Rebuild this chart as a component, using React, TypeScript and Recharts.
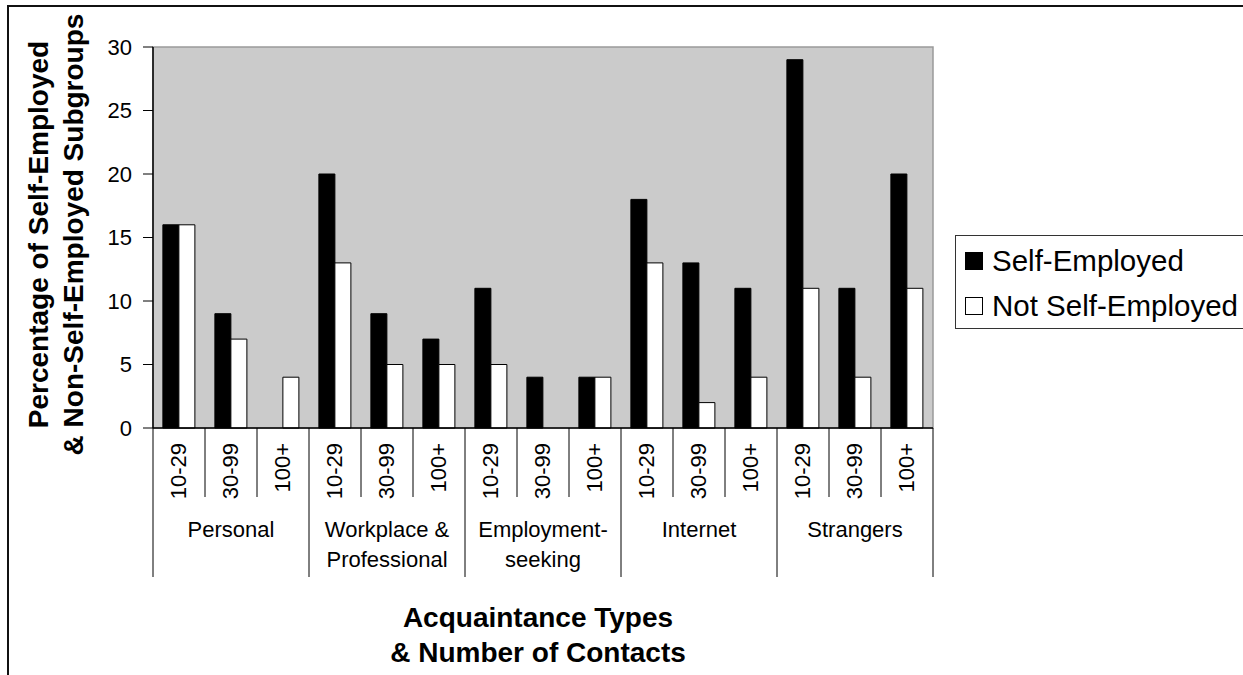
import { BarChart, Bar, XAxis, YAxis, Legend, ReferenceArea } from 'recharts';

const FONT = '"Liberation Sans", Arial, sans-serif';

// acquaintance types (multi-line where the label wraps)
const groupLabels = [
  ['Personal'],
  ['Workplace &', 'Professional'],
  ['Employment-', 'seeking'],
  ['Internet'],
  ['Strangers'],
];

// number-of-contacts bands inside each type
const bands = ['10-29', '30-99', '100+'];

// percentages, in order type by type, band by band
const selfEmployed = [16, 9, 0, 20, 9, 7, 11, 4, 4, 18, 13, 11, 29, 11, 20];
const notSelfEmployed = [16, 7, 4, 13, 5, 5, 5, 0, 4, 13, 2, 4, 11, 4, 11];

const yTicks = [0, 5, 10, 15, 20, 25, 30];

const seriesOrder = ['selfEmployed', 'notSelfEmployed'];

const rows = groupLabels.flatMap((g, gi) =>
  bands.map((b, bi) => {
    const i = gi * bands.length + bi;
    return {
      id: `${g.join(' ')} ${b}`,
      group: gi,
      band: b,
      selfEmployed: selfEmployed[i],
      notSelfEmployed: notSelfEmployed[i],
    };
  })
);

const BAND_LINE = 69;
const GROUP_LINE = 149;

function CategoryTick(props: any) {
  const { x, y, payload } = props;
  const i: number = payload?.index ?? props.index ?? 0;
  const half: number = payload?.offset ?? 26;
  const row = rows[i];
  const left = x - half;
  const right = x + half;
  const groupEnd = (i + 1) % bands.length === 0;
  const middle = i % bands.length === 1;
  const tx = x + 7;
  const ty = y + 15;
  return (
    <g>
      {i === 0 && <line x1={left} x2={left} y1={y} y2={y + GROUP_LINE} stroke="#000" />}
      <line x1={right} x2={right} y1={y} y2={y + (groupEnd ? GROUP_LINE : BAND_LINE)} stroke="#000" />
      <text
        x={tx}
        y={ty}
        transform={`rotate(-90 ${tx} ${ty})`}
        textAnchor="end"
        fontSize={22}
        fontFamily={FONT}
        fill="#000"
      >
        {row.band}
      </text>
      {middle &&
        groupLabels[row.group].map((line, li) => (
          <text
            key={li}
            x={x}
            y={y + 109 + li * 30}
            textAnchor="middle"
            fontSize={22}
            fontFamily={FONT}
            fill="#000"
          >
            {line}
          </text>
        ))}
    </g>
  );
}

function ValueTick(props: any) {
  const { x, y, payload } = props;
  return (
    <text x={x - 5} y={y} dy="0.35em" textAnchor="end" fontSize={22} fontFamily={FONT} fill="#000">
      {payload.value}
    </text>
  );
}

function XTitle(props: any) {
  const { x, width, y } = props.viewBox;
  const cx = x + width / 2 - 5;
  return (
    <g>
      <text x={cx} y={y + 199} textAnchor="middle" fontSize={28} fontWeight="bold" fontFamily={FONT} fill="#000">
        Acquaintance Types
      </text>
      <text x={cx} y={y + 234} textAnchor="middle" fontSize={28} fontWeight="bold" fontFamily={FONT} fill="#000">
        & Number of Contacts
      </text>
    </g>
  );
}

function YTitle(props: any) {
  const { y, height } = props.viewBox;
  const cy = y + height / 2 - 3;
  const lines = ['Percentage of Self-Employed', '& Non-Self-Employed Subgroups'];
  return (
    <g>
      {lines.map((t, i) => {
        const bx = 48 + i * 35;
        return (
          <text
            key={i}
            x={bx}
            y={cy}
            transform={`rotate(-90 ${bx} ${cy})`}
            textAnchor="middle"
            fontSize={28}
            fontWeight="bold"
            fontFamily={FONT}
            fill="#000"
          >
            {t}
          </text>
        );
      })}
    </g>
  );
}

function LegendBox(props: any) {
  const items = [...(props.payload || [])].sort(
    (a: any, b: any) => seriesOrder.indexOf(a.dataKey) - seriesOrder.indexOf(b.dataKey)
  );
  return (
    <div
      style={{
        border: '1px solid #333',
        background: '#fff',
        padding: '2px 40px 0 9px',
        fontFamily: FONT,
        fontSize: 29.5,
        color: '#000',
        whiteSpace: 'nowrap',
      }}
    >
      {items.map((entry: any) => (
        <div key={entry.value} style={{ height: 45, lineHeight: '45px', display: 'flex', alignItems: 'center' }}>
          <span
            style={{
              display: 'inline-block',
              width: 18,
              height: 18,
              background: entry.dataKey === 'selfEmployed' ? '#000' : '#fff',
              border: '1px solid #000',
              boxSizing: 'border-box',
              marginRight: 9,
            }}
          />
          <span>{entry.value}</span>
        </div>
      ))}
    </div>
  );
}

export default function App() {
  return (
    <div style={{ position: 'absolute', left: 0, top: 0, width: 1243, height: 675, overflow: 'hidden', background: '#fff' }}>
      <div
        style={{
          position: 'absolute',
          left: 7,
          top: 5,
          width: 1300,
          height: 800,
          border: '2px solid #111',
        }}
      />
      <div style={{ position: 'absolute', left: 0, top: 0 }}>
        <BarChart
          width={1243}
          height={675}
          data={rows}
          margin={{ top: 47, right: 310, bottom: 0, left: 0 }}
          barCategoryGap="19%"
          barGap={0}
        >
          <ReferenceArea
            x1={rows[0].id}
            x2={rows[rows.length - 1].id}
            y1={0}
            y2={30}
            fill="#CBCBCB"
            fillOpacity={1}
            stroke="#9a9a9a"
            strokeWidth={1.5}
          />
          <Bar dataKey="selfEmployed" name="Self-Employed" fill="#000" stroke="#000" isAnimationActive={false} />
          <Bar dataKey="notSelfEmployed" name="Not Self-Employed" fill="#fff" stroke="#000" isAnimationActive={false} />
          <XAxis
            dataKey="id"
            height={247}
            interval={0}
            tickLine={false}
            tickSize={0}
            tickMargin={0}
            axisLine={{ stroke: '#000', strokeWidth: 1.5 }}
            tick={<CategoryTick />}
            label={{ content: <XTitle /> }}
          />
          <YAxis
            width={153}
            domain={[0, 30]}
            ticks={yTicks}
            interval={0}
            tickSize={10}
            tickMargin={6}
            tickLine={{ stroke: '#000' }}
            axisLine={{ stroke: '#000', strokeWidth: 1.5 }}
            tick={<ValueTick />}
            label={{ content: <YTitle /> }}
          />
          <Legend
            layout="vertical"
            align="center"
            verticalAlign="middle"
            content={<LegendBox />}
            wrapperStyle={{ position: 'absolute', left: 955, top: 235, width: 'auto' }}
          />
        </BarChart>
      </div>
    </div>
  );
}
